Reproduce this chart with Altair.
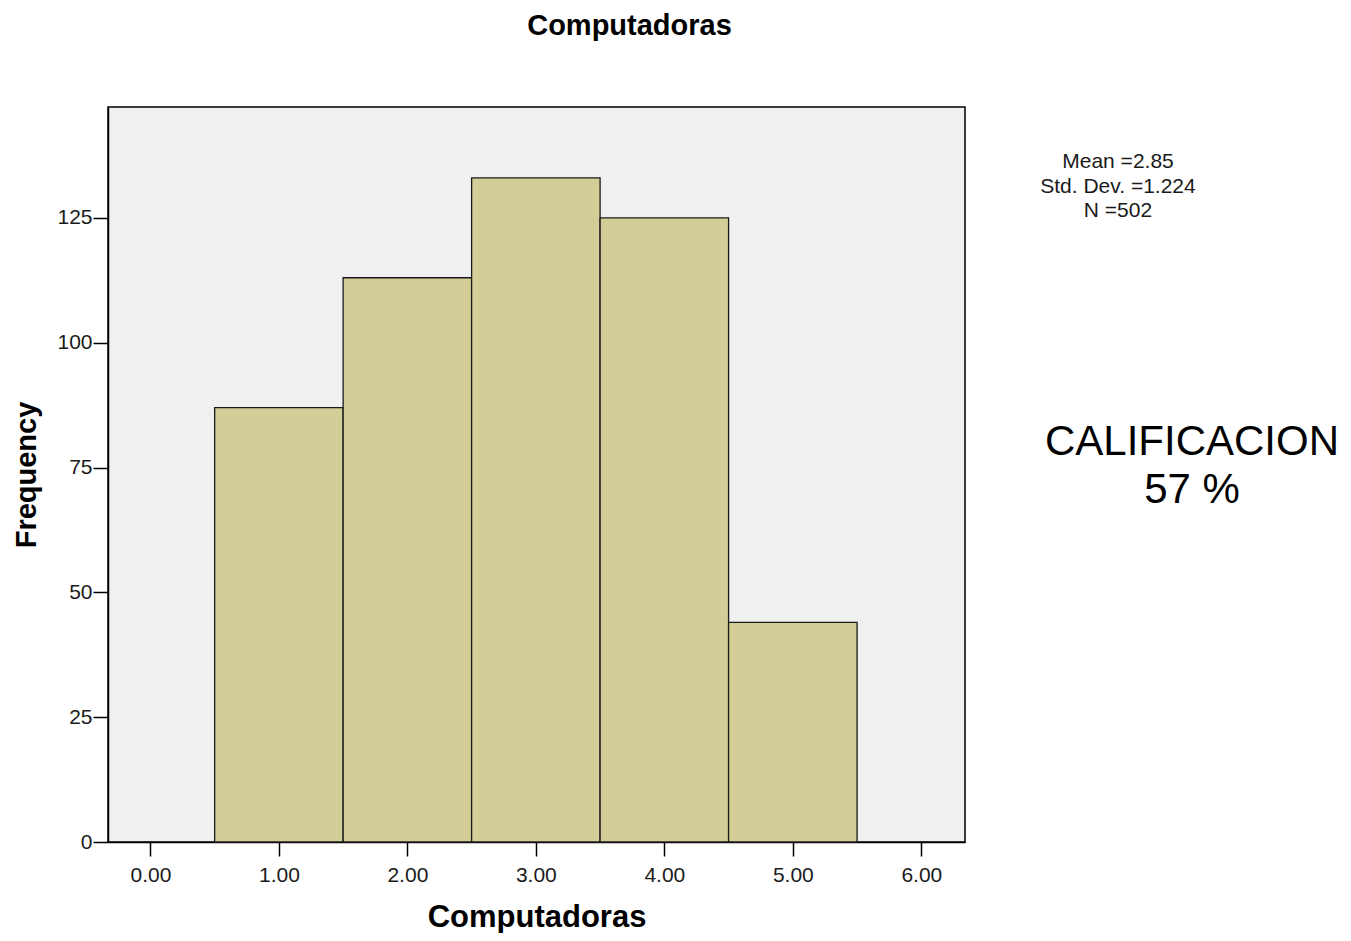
import altair as alt
import pandas as pd

# Data
bin_centers = [1, 2, 3, 4, 5]
frequencies = [87, 113, 133, 125, 44]
y_ticks = [0, 25, 50, 75, 100, 125]
x_ticks = [0, 1, 2, 3, 4, 5, 6]
stats_lines = ["Mean =2.85", "Std. Dev. =1.224", "N =502"]
note_lines = ["CALIFICACION", "57 %"]

df = pd.DataFrame({"center": bin_centers, "freq": frequencies})

FONT = "Liberation Sans"
PW, PH = 857, 735

bars = (
    alt.Chart(df)
    .transform_calculate(lo="datum.center - 0.5", hi="datum.center + 0.5", base="0")
    .mark_rect(fill="#D3CE97", stroke="#1a1a1a", strokeWidth=1.3)
    .encode(
        x=alt.X(
            "lo:Q",
            scale=alt.Scale(domain=[-0.33, 6.34], nice=False, zero=False),
            axis=alt.Axis(
                values=x_ticks,
                format=".2f",
                title="Computadoras",
                titleY=84,
                titleBaseline="alphabetic",
                tickSize=14,
                labelPadding=8,
            ),
        ),
        x2="hi:Q",
        y=alt.Y(
            "freq:Q",
            scale=alt.Scale(domain=[0, 147.2], nice=False),
            axis=alt.Axis(
                values=y_ticks,
                title="Frequency",
                titleX=-73,
                titleFontSize=29,
                titleBaseline="alphabetic",
                tickSize=15,
                labelPadding=1,
            ),
        ),
        y2="base:Q",
    )
)

stats = (
    alt.Chart(pd.DataFrame({"t": ["\n".join(stats_lines)]}))
    .mark_text(
        font=FONT, fontSize=21, color="#1a1a1a", align="center",
        baseline="alphabetic", lineBreak="\n", lineHeight=24.5,
    )
    .encode(x=alt.value(1010), y=alt.value(61), text="t:N")
)

note = (
    alt.Chart(pd.DataFrame({"t": ["\n".join(note_lines)]}))
    .mark_text(
        font=FONT, fontSize=42, color="#000000", align="center",
        baseline="alphabetic", lineBreak="\n", lineHeight=48,
    )
    .encode(x=alt.value(1084), y=alt.value(348), text="t:N")
)

chart = (
    alt.layer(bars, stats, note)
    .properties(
        width=PW,
        height=PH,
        autosize=alt.AutoSizeParams(type="none"),
        padding={"left": 100, "top": 99, "right": 378, "bottom": 91},
        title=alt.TitleParams(
            "Computadoras", anchor="middle", frame="group", dx=93,
            offset=66, font=FONT, fontSize=29, fontWeight="bold", color="#000000",
        ),
    )
    .configure_view(fill="#F0F0F0", stroke="#000000", strokeWidth=1.5)
    .configure_axis(
        grid=False,
        domainColor="#000000",
        domainWidth=1.5,
        tickColor="#000000",
        tickWidth=1.5,
        labelFont=FONT,
        labelFontSize=21,
        labelColor="#1a1a1a",
        titleFont=FONT,
        titleFontSize=31,
        titleFontWeight="bold",
        titleColor="#000000",
    )
)

chart.save("out.html", embed_options={"renderer": "svg", "actions": False})
